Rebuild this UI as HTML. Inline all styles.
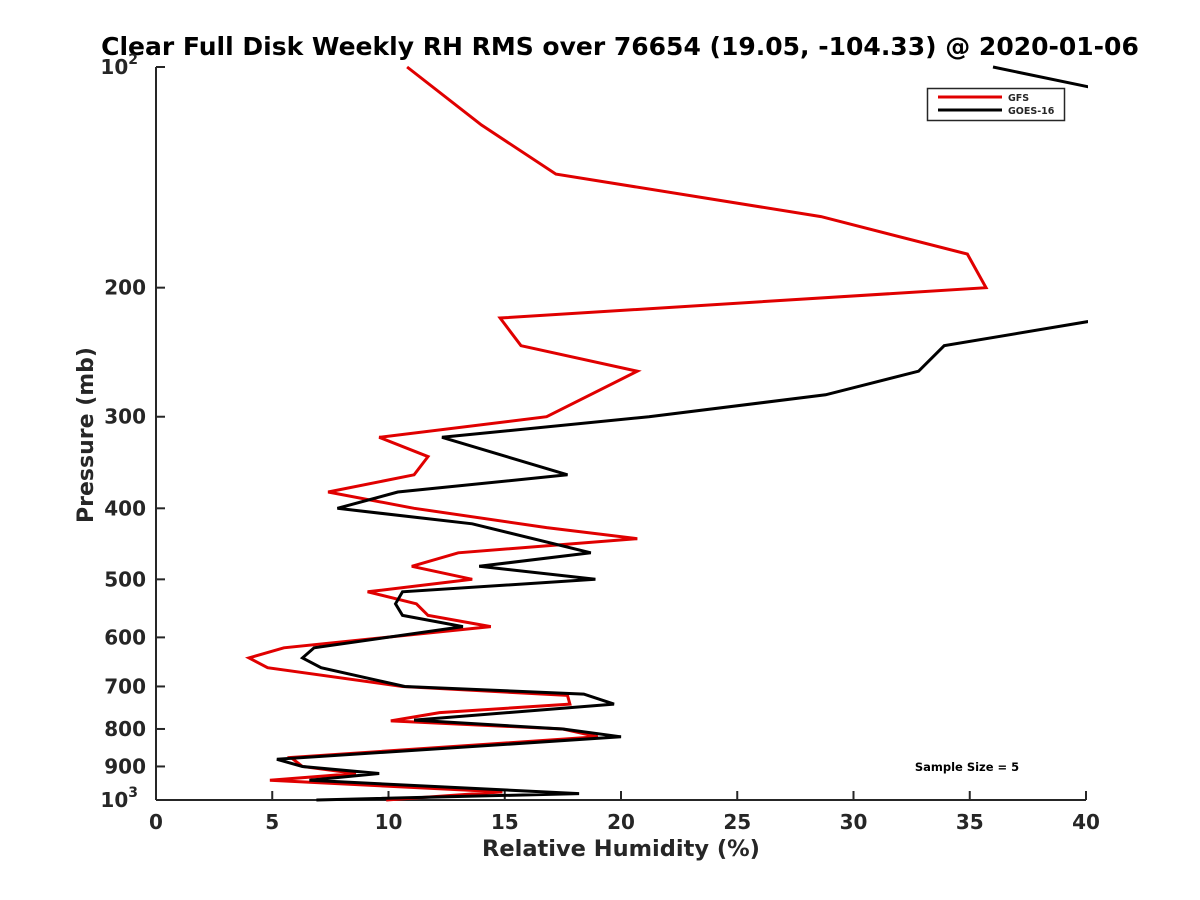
<!DOCTYPE html>
<html><head><meta charset="utf-8"><style>
html,body{margin:0;padding:0;background:#fff;}
svg{display:block;font-family:"DejaVu Sans","Liberation Sans",sans-serif;font-weight:bold;}
</style></head><body>
<svg id="chart" width="1200" height="900" viewBox="0 0 1200 900">
<defs><clipPath id="plotclip"><rect x="156" y="62" width="932" height="740"/></clipPath></defs>
<text x="620" y="55" text-anchor="middle" font-size="25" fill="#000">Clear Full Disk Weekly RH RMS over 76654 (19.05, -104.33) @ 2020-01-06</text>
<g id="axes"></g>
<g id="series" clip-path="url(#plotclip)"></g>
<g>
<rect x="927.5" y="88.5" width="137" height="32" fill="#fff" stroke="#262626" stroke-width="1.5"/>
<line x1="938" y1="97" x2="1002" y2="97" stroke="#e00000" stroke-width="3"/>
<text x="1008" y="101" font-size="9.5" fill="#262626">GFS</text>
<line x1="938" y1="110" x2="1002" y2="110" stroke="#000" stroke-width="3"/>
<text x="1008" y="114" font-size="9.5" fill="#262626">GOES-16</text>
</g>
<text x="967" y="771" text-anchor="middle" font-size="11.5" fill="#000">Sample Size = 5</text>
<text x="621" y="856" text-anchor="middle" font-size="22.5" fill="#262626">Relative Humidity (%)</text>
<text transform="translate(93,435) rotate(-90)" text-anchor="middle" font-size="22" fill="#262626">Pressure (mb)</text>
</svg>
<script>
const gfsPressure = [100,120,140,160,180,200,220,240,260,300,320,340,360,380,400,425,440,460,480,500,520,540,560,580,620,640,660,700,720,740,760,780,800,820,875,900,920,940,975,1000];
const gfsRH = [10.8,14.0,17.2,28.6,34.9,35.7,14.8,15.7,20.7,16.8,9.6,11.7,11.1,7.4,11.1,16.8,20.7,13.0,11.0,13.6,9.1,11.2,11.7,14.4,5.5,4.0,4.8,10.6,17.7,17.8,12.2,10.1,17.5,19.0,5.8,6.3,8.6,4.9,14.9,9.9];
const goesPressure = [100,120,140,160,180,200,220,240,260,280,300,320,360,380,400,420,460,480,500,520,540,560,580,620,640,660,700,717,740,778,800,820,880,900,920,940,980,1000];
const goesRH = [36.0,48.0,55.0,60.0,58.0,50.0,41.0,33.9,32.8,28.8,21.2,12.3,17.7,10.4,7.8,13.6,18.7,13.9,18.9,10.6,10.3,10.6,13.2,6.8,6.3,7.1,10.7,18.4,19.7,11.1,17.5,20.0,5.2,6.3,9.6,6.6,18.2,6.9];
const xTicks = [0,5,10,15,20,25,30,35,40];
const yTicks = [100,200,300,400,500,600,700,800,900,1000];
const yTickLabels = ["10²","200","300","400","500","600","700","800","900","10³"];

const X0=156,X1=1086,Y0=67,Y1=800;
function xScale(v){return X0+(v-0)/(40-0)*(X1-X0);}
function yScale(p){return Y0+(Math.log10(p)-2)*(Y1-Y0);}
const NS="http://www.w3.org/2000/svg";
const axes=document.getElementById('axes');
const series=document.getElementById('series');
function mk(tag,attrs,parent){const e=document.createElementNS(NS,tag);for(const k in attrs)e.setAttribute(k,attrs[k]);parent.appendChild(e);return e;}

const xl=mk('line',{x1:X0,y1:Y1,x2:X1,y2:Y1,stroke:'#262626','stroke-width':2},axes);


const yl=mk('line',{x1:X0,y1:Y0,x2:X0,y2:Y1,stroke:'#262626','stroke-width':2},axes);



xTicks.forEach(v=>{
  const x=xScale(v);
  const t=mk('line',{x1:x,y1:Y1,x2:x,y2:Y1-9,stroke:'#262626','stroke-width':2},axes);
  
  
  const l=mk('text',{x:x,y:Y1+29,'text-anchor':'middle','font-size':20,fill:'#262626'},axes);
  l.textContent=v;
  
  
});
yTicks.forEach((p,i)=>{
  const y=yScale(p);
  const t=mk('line',{x1:X0,y1:y,x2:X0+9,y2:y,stroke:'#262626','stroke-width':2},axes);
  
  
  const l=mk('text',{x:X0-10,y:y+7,'text-anchor':'end','font-size':20,fill:'#262626'},axes);
  const s=yTickLabels[i];
  if(s.length===3&&(s[2]==='²'||s[2]==='³')){
    l.textContent='10';
    const sup=mk('tspan',{dy:-10,'font-size':14},l);
    sup.textContent=s[2]==='²'?'2':'3';
    l.setAttribute('x',X0-18);
  } else l.textContent=s;
  
  
});

function drawLine(P,V,color,name){
  const pts=P.map((p,i)=>xScale(V[i]).toFixed(1)+','+yScale(p).toFixed(1)).join(' ');
  const pl=mk('polyline',{points:pts,fill:'none',stroke:color,'stroke-width':3,'stroke-linejoin':'miter'},series);
  
  
}
drawLine(gfsPressure,gfsRH,'#e00000','gfs-line');
drawLine(goesPressure,goesRH,'#000000','goes16-line');
</script>
</body></html>
